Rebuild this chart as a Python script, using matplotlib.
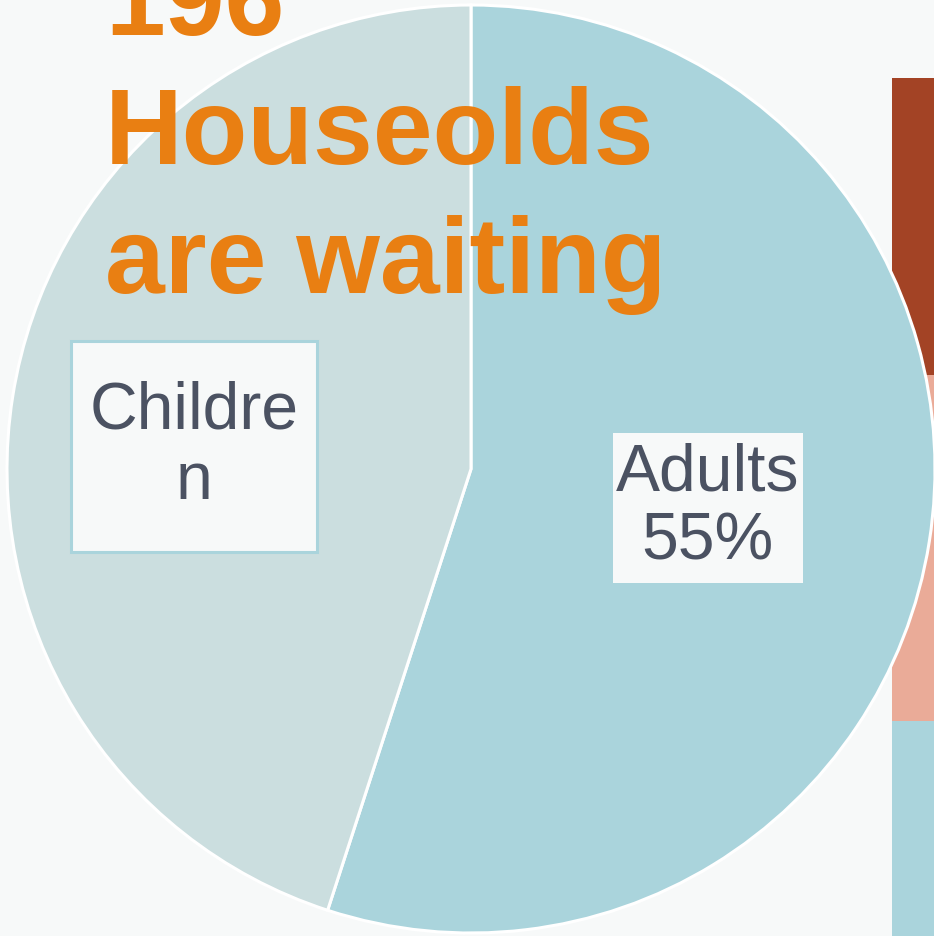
import numpy as np
import matplotlib.pyplot as plt
from matplotlib.patches import Rectangle

plt.rcParams["font.family"] = ["Liberation Sans", "DejaVu Sans"]

# pie data
groups = ["Adults", "Children"]
shares = [55, 45]
pie_colors = ["#aad4dc", "#cbdedf"]
label_text = ["Adults\n55%", "Childre\nn"]

# partly hidden stacked bar on the right (bottom to top)
bar_parts = [32, 36, 31]
bar_colors = ["#aad4dc", "#eaab98", "#a34325"]

title_lines = ["196", "Houseolds", "are waiting"]

W, H = 934, 936
bg = "#f7f9f9"
fig = plt.figure(figsize=(W/100, H/100), dpi=100, facecolor=bg)

# bar axes (behind the pie)
axb = fig.add_axes([892/W, 0, 0.2, 1])
axb.set_facecolor("none")
bottom = 0
for v, c in zip(bar_parts, bar_colors):
    axb.bar(0, v, bottom=bottom, width=1, align="edge", color=c, linewidth=0)
    bottom += v
axb.set_xlim(0, 1)
axb.set_ylim(9.6, 107.1)
axb.axis("off")

# pie axes
cx, cy, r = 471, 467, 464
ax = fig.add_axes([(cx-r)/W, (cy-r)/H, 2*r/W, 2*r/H])
ax.set_facecolor("none")
wedges, _ = ax.pie(shares, colors=pie_colors, startangle=90, counterclock=False,
                   wedgeprops=dict(edgecolor="white", linewidth=2.2))
ax.set_xlim(-1, 1)
ax.set_ylim(-1, 1)
ax.axis("off")

# data labels inside the slices with boxes
label_xy = [(0.51, -0.084), (-0.597, 0.048)]
box_w = [0.41, 0.53]
box_h = [0.325, 0.455]
box_edge = ["none", "#aad4dc"]
for t, (x, y), bw, bh, be in zip(label_text, label_xy, box_w, box_h, box_edge):
    ax.add_patch(Rectangle((x-bw/2, y-bh/2), bw, bh, facecolor=bg,
                           edgecolor=be, linewidth=2.2, zorder=3))
    ax.text(x, y, t, ha="center", va="center", fontsize=47.5, color="#4b5262",
            linespacing=1.16, zorder=4)

# headline
baselines = [35, 164, 293]
for line, b in zip(title_lines, baselines):
    fig.text(105/W, 1 - b/H, line, ha="left", va="baseline", fontsize=77.4,
             fontweight="bold", color="#e97f12")

plt.savefig("out.png", dpi=100, facecolor=bg)
